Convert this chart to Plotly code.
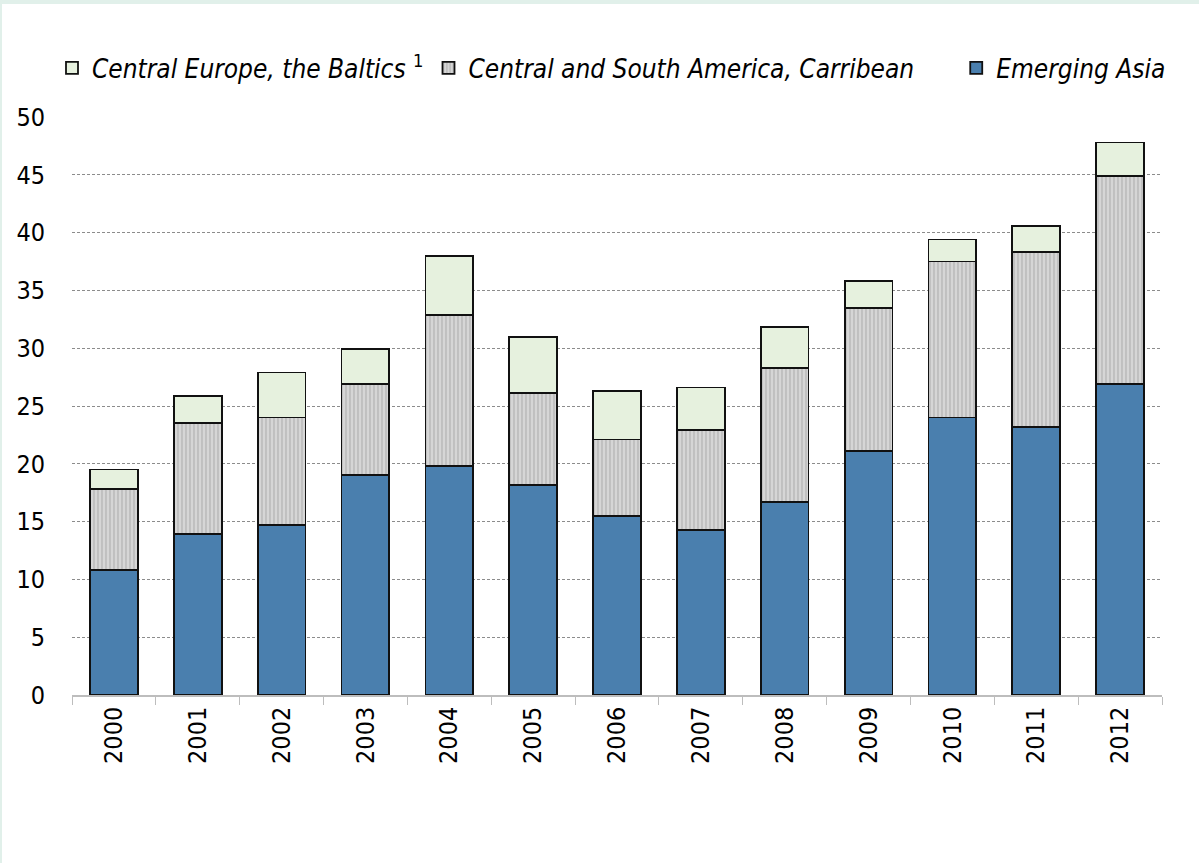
import plotly.graph_objects as go

years = ["2000", "2001", "2002", "2003", "2004", "2005", "2006", "2007", "2008", "2009", "2010", "2011", "2012"]
emerging_asia = [10.8, 13.9, 14.7, 19.0, 19.8, 18.2, 15.5, 14.3, 16.7, 21.1, 24.0, 23.2, 26.9]
central_south_america = [7.0, 9.6, 9.3, 7.9, 13.1, 7.9, 6.6, 8.6, 11.6, 12.4, 13.5, 15.1, 18.0]
central_europe = [1.7, 2.4, 3.9, 3.0, 5.1, 4.9, 4.2, 3.7, 3.5, 2.3, 1.9, 2.3, 2.9]

FONT = "DejaVu Sans Condensed, Liberation Sans Narrow, sans-serif"

fig = go.Figure()
fig.add_trace(go.Bar(
    x=years, y=emerging_asia, name="Emerging Asia",
    marker=dict(color="#4a7fae", line=dict(color="#111111", width=1.8)),
))
fig.add_trace(go.Bar(
    x=years, y=central_south_america,
    name="Central and South America, Carribean" + "&nbsp;" * 5,
    marker=dict(color="#d0d0d0", line=dict(color="#111111", width=1.8),
                pattern=dict(shape="|", fgcolor="#9a9a9a", bgcolor="#d6d6d6", size=4, solidity=0.35)),
))
fig.add_trace(go.Bar(
    x=years, y=central_europe,
    name="Central Europe, the Baltics <span style='font-style:normal'><sup>1</sup></span>",
    marker=dict(color="#e6f1de", line=dict(color="#111111", width=1.8)),
))

fig.update_layout(
    barmode="stack",
    bargap=0.43,
    width=1199, height=863,
    margin=dict(l=72, r=37, t=117, b=168, autoexpand=False),
    paper_bgcolor="#e1f0ea",
    plot_bgcolor="white",
    font=dict(family=FONT, size=25, color="black"),
    showlegend=True,
    legend=dict(
        orientation="h", traceorder="reversed",
        x=(52 - 72) / 1090, y=(695 - 68) / 578, xanchor="left", yanchor="middle",
        font=dict(family=FONT, size=26, style="italic"),
        bgcolor="rgba(0,0,0,0)", itemwidth=30,
    ),
    shapes=[dict(type="rect", xref="paper", yref="paper",
                 x0=(2 - 72) / 1090, x1=(1199 - 72) / 1090 + 0.01,
                 y0=(695 - 870) / 578, y1=(695 - 4) / 578,
                 fillcolor="white", line=dict(width=0), layer="below")],
)

fig.update_xaxes(
    type="category", tickangle=-90, tickson="boundaries",
    ticks="outside", ticklen=8, tickcolor="#bdbdbd",
    showline=True, linecolor="#bdbdbd", linewidth=1.5,
    showgrid=False, tickfont=dict(size=25),
)
fig.update_yaxes(
    range=[0, 50], dtick=5, showgrid=True, gridcolor="#8c8c8c", griddash="3px,2px", gridwidth=1,
    zeroline=False, showline=False, ticks="", ticklabelstandoff=26,
    tickfont=dict(size=25),
)

fig.write_html(
    "out.html",
    config={"displayModeBar": False},
    post_script="document.body.style.margin='0';document.body.style.background='#e1f0ea';",
)
